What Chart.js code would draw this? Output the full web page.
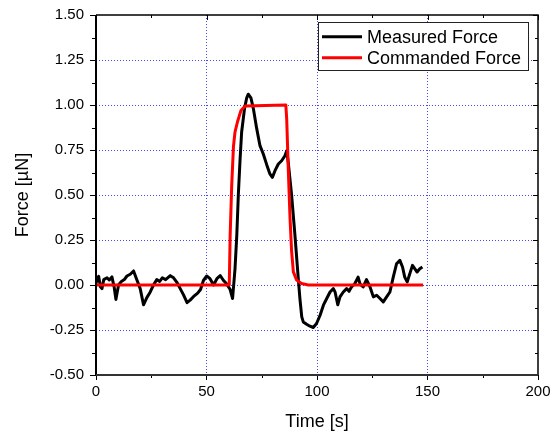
<!DOCTYPE html>
<html>
<head>
<meta charset="utf-8">
<script src="https://cdn.jsdelivr.net/npm/chart.js@4.4.1/dist/chart.umd.min.js"></script>
<style>
  html, body { margin: 0; padding: 0; background: #fff; }
</style>
</head>
<body>
<canvas id="chart" width="558" height="434"></canvas>
<script>
// values
const timeMeasured = [0, 0.7, 1.2, 2.0, 2.7, 3.5, 5.0, 6.0, 7.2, 8.2, 9.0, 10.2, 11.5, 12.8, 14.0, 15.5, 17.0, 18.3, 20.0, 21.5,
  23.0, 24.5, 26.0, 27.5, 28.8, 30.0, 31.5, 33.6, 35.1, 36.6, 38.1, 39.6, 41.2, 42.6, 44.5, 46.0, 47.3, 48.6, 50.1, 51.6,
  53.2, 54.7, 56.2, 57.7, 59.2, 60.7, 61.8, 62.9, 63.7, 64.4, 65.2, 65.9, 67.2, 68.2, 68.9, 70.1, 71.2, 72.7, 74.2, 75.7,
  77.2, 78.7, 79.8, 81.0, 82.5, 84.0, 85.5, 86.3, 87.0, 88.5, 90.0, 91.5, 92.3, 93.1, 93.8, 95.3, 96.8, 98.3, 99.8, 101.4,
  102.9, 104.4, 105.9, 107.4, 108.2, 109.4, 110.4, 111.9, 113.4, 114.5, 115.6, 117.1, 118.6, 119.5, 120.9, 122.4, 124.0, 125.5, 127.0, 128.5,
  130.0, 131.5, 133.0, 134.5, 136.0, 137.5, 138.7, 139.7, 140.8, 142.0, 143.2, 144.3, 145.3, 146.5, 147.7];
const forceMeasured = [0.01, 0.035, 0.048, -0.01, -0.02, 0.03, 0.04, 0.028, 0.045, -0.01, -0.08, 0.0, 0.02, 0.03, 0.05, 0.06, 0.078, 0.035, -0.02, -0.11,
  -0.07, -0.04, 0.0, 0.03, 0.02, 0.04, 0.03, 0.052, 0.04, 0.015, -0.02, -0.055, -0.098, -0.084, -0.06, -0.045, -0.025, 0.025, 0.05, 0.035,
  0.0, 0.035, 0.052, 0.025, 0.005, -0.025, -0.075, 0.09, 0.275, 0.5, 0.7, 0.85, 0.98, 1.04, 1.06, 1.04, 0.98, 0.87, 0.774, 0.728,
  0.67, 0.617, 0.598, 0.635, 0.672, 0.69, 0.718, 0.746, 0.68, 0.5, 0.28, 0.04, -0.08, -0.177, -0.205, -0.218, -0.229, -0.236, -0.214, -0.168,
  -0.112, -0.075, -0.039, -0.02, -0.04, -0.11, -0.066, -0.039, -0.02, -0.035, -0.011, 0.007, 0.044, 0.005, -0.011, 0.03, -0.011, -0.066, -0.057, -0.075,
  -0.094, -0.066, -0.039, 0.044, 0.118, 0.137, 0.1, 0.044, 0.017, 0.063, 0.109, 0.09, 0.072, 0.09, 0.1];

const timeCommanded = [0, 60.3, 60.7, 61.4, 62.2, 62.9, 64.1, 65.6, 67.5, 85.9, 86.3, 87.0, 87.8, 88.5, 89.3, 90.8, 93.0, 96.1, 148];
const forceCommanded = [0, 0, 0.275, 0.55, 0.77, 0.85, 0.91, 0.97, 0.995, 1.0, 0.92, 0.645, 0.37, 0.19, 0.073, 0.027, 0.008, 0, 0];

const xTicks = [0, 50, 100, 150, 200];
const xMinorTicks = [25, 75, 125, 175];
const yTicks = [-0.5, -0.25, 0, 0.25, 0.5, 0.75, 1.0, 1.25, 1.5];
const yMinorTicks = [-0.375, -0.125, 0.125, 0.375, 0.625, 0.875, 1.125, 1.375];

const FONT = "'Liberation Sans', Arial, sans-serif";

function toPoints(xs, ys) {
  return xs.map((x, i) => ({ x: x, y: ys[i] }));
}

function gridColor(edges) {
  return c => (c.tick && edges.includes(c.tick.value)) ? 'rgba(0,0,0,0)' : '#4646ff';
}

// frame, minor ticks and the inward ticks of the top and right axes
const framePlugin = {
  id: 'frame',
  afterDraw(chart) {
    const { ctx, chartArea: a, scales: { x, y } } = chart;
    ctx.save();
    ctx.strokeStyle = '#000';
    ctx.lineWidth = 1;
    ctx.beginPath();
    xMinorTicks.forEach(v => {
      const px = Math.round(x.getPixelForValue(v)) + 0.5;
      ctx.moveTo(px, a.bottom); ctx.lineTo(px, a.bottom + 3);
      ctx.moveTo(px, a.top); ctx.lineTo(px, a.top + 3);
    });
    xTicks.forEach(v => {
      const px = Math.round(x.getPixelForValue(v)) + 0.5;
      ctx.moveTo(px, a.top); ctx.lineTo(px, a.top + 5);
    });
    yMinorTicks.forEach(v => {
      const py = Math.round(y.getPixelForValue(v)) + 0.5;
      ctx.moveTo(a.left, py); ctx.lineTo(a.left - 4, py);
      ctx.moveTo(a.right, py); ctx.lineTo(a.right - 3, py);
    });
    yTicks.forEach(v => {
      const py = Math.round(y.getPixelForValue(v)) + 0.5;
      ctx.moveTo(a.right, py); ctx.lineTo(a.right - 5, py);
    });
    ctx.stroke();

    ctx.lineWidth = 1.5;
    ctx.beginPath();
    ctx.moveTo(a.left, a.top); ctx.lineTo(a.right, a.top); ctx.lineTo(a.right, a.bottom);
    ctx.stroke();
    ctx.lineWidth = 2;
    ctx.beginPath();
    ctx.moveTo(a.left, a.top); ctx.lineTo(a.left, a.bottom);
    ctx.stroke();
    ctx.strokeStyle = '#333';
    ctx.beginPath();
    ctx.moveTo(a.left, a.bottom); ctx.lineTo(a.right, a.bottom);
    ctx.stroke();
    ctx.restore();
  }
};

// boxed legend inside the plot, top right
const legendPlugin = {
  id: 'boxLegend',
  afterDraw(chart) {
    const { ctx, chartArea: a } = chart;
    const sets = chart.data.datasets;
    const boxR = a.right - 10, boxL = boxR - 210, boxT = a.top + 7, boxB = boxT + 48;
    ctx.save();
    ctx.fillStyle = '#fff';
    ctx.fillRect(boxL, boxT, boxR - boxL, boxB - boxT);
    ctx.strokeStyle = '#222';
    ctx.lineWidth = 1;
    ctx.strokeRect(boxL + 0.5, boxT + 0.5, boxR - boxL, boxB - boxT);
    ctx.font = '18px ' + FONT;
    ctx.textBaseline = 'middle';
    ctx.fillStyle = '#000';
    sets.forEach((ds, i) => {
      const ly = boxT + 14.7 + i * 21;
      ctx.strokeStyle = ds.borderColor;
      ctx.lineWidth = 3;
      ctx.beginPath();
      ctx.moveTo(boxL + 4, ly); ctx.lineTo(boxL + 44, ly);
      ctx.stroke();
      ctx.fillText(ds.label, boxL + 49, ly + 1);
    });
    ctx.restore();
  }
};

new Chart(document.getElementById('chart'), {
  type: 'line',
  data: {
    datasets: [
      {
        label: 'Measured Force',
        data: toPoints(timeMeasured, forceMeasured),
        borderColor: '#000',
        borderWidth: 3,
        pointRadius: 0,
        tension: 0,
        borderJoinStyle: 'round',
        order: 2
      },
      {
        label: 'Commanded Force',
        data: toPoints(timeCommanded, forceCommanded),
        borderColor: '#ff0000',
        borderWidth: 3,
        pointRadius: 0,
        tension: 0,
        borderJoinStyle: 'round',
        order: 1
      }
    ]
  },
  options: {
    responsive: false,
    animation: false,
    devicePixelRatio: 1,
    layout: { padding: { top: 14, right: 20, left: 0, bottom: 0 } },
    plugins: { legend: { display: false }, tooltip: { enabled: false } },
    scales: {
      x: {
        type: 'linear',
        min: 0, max: 200,
        afterBuildTicks: s => { s.ticks = xTicks.map(v => ({ value: v })); },
        afterFit: s => { s.height = 59; },
        ticks: { color: '#000', font: { family: FONT, size: 15 }, padding: 3, maxRotation: 0 },
        grid: {
          color: gridColor([0, 200]), lineWidth: 1,
          tickColor: '#000', tickLength: 5, tickWidth: 1, tickBorderDash: []
        },
        border: { display: false, dash: [1, 2] },
        title: { display: true, text: 'Time [s]', color: '#000', font: { family: FONT, size: 18 }, padding: { top: 0, bottom: 1 } }
      },
      y: {
        type: 'linear',
        min: -0.5, max: 1.5,
        afterBuildTicks: s => { s.ticks = yTicks.map(v => ({ value: v })); },
        afterFit: s => { s.width = 96; },
        ticks: { color: '#000', font: { family: FONT, size: 15 }, padding: 6, callback: v => v.toFixed(2) },
        grid: {
          color: gridColor([-0.5, 1.5]), lineWidth: 1,
          tickColor: '#000', tickLength: 6, tickWidth: 1, tickBorderDash: []
        },
        border: { display: false, dash: [1, 2] },
        title: { display: true, text: 'Force [µN]', color: '#000', font: { family: FONT, size: 18 }, padding: { top: 12, bottom: 0 } }
      }
    }
  },
  plugins: [framePlugin, legendPlugin]
});
</script>
</body>
</html>
